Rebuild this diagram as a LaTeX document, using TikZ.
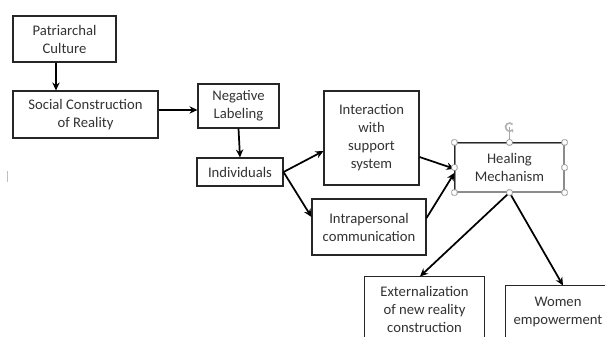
\documentclass[tikz,border=0pt]{standalone}
\usepackage{fontspec}
\setmainfont{Carlito}
\usetikzlibrary{arrows.meta,calc}
\tikzset{
  box/.style={draw=black!85, line width=0.8pt, fill=white, inner sep=0pt, align=center,
    font=\fontsize{11}{13.5}\selectfont, text=black!80},
  edge/.style={draw=black!85, line width=0.8pt},
  arr/.style={draw=black, line width=1.3pt, -{Stealth[length=6pt,width=5.5pt]}},
  handle/.style={draw=black!40, fill=white, line width=0.6pt, rounded corners=0.9pt,
    minimum size=4pt, inner sep=0pt, rectangle},
}
\begin{document}
\begin{tikzpicture}[x=0.75pt,y=-0.75pt]
\clip (0,0) rectangle (605,336);
\fill[white] (0,0) rectangle (605,336);

\node[box, minimum width=77.25pt, minimum height=34.5pt] (P) at (64.5,39) {Patriarchal\\Culture};
\node[box, minimum width=108.75pt, minimum height=35.25pt] (S) at (85.5,114.5) {Social Construction\\of Reality};
\node[box, minimum width=60.75pt, minimum height=33pt] (N) at (238.5,106) {Negative\\Labeling};
\node[box, minimum width=64.5pt, minimum height=21pt] (I) at (240,172) {Individuals};
\node[box, minimum width=71.25pt, minimum height=70.5pt] (Int) at (371.5,138) {Interaction\\with\\support\\system};
\node[box, minimum width=85.5pt, minimum height=42pt] (Intra) at (369,227) {Intrapersonal\\communication};
\node[box, minimum width=81.75pt, minimum height=36.75pt, draw=black!45] (H) at (509.5,167.5) {Healing\\Mechanism};
\node[box, draw=none, minimum width=89.25pt, minimum height=48pt] (E) at (424.5,309) {Externalization\\of new reality\\construction};
\node[box, draw=none, minimum width=78pt, minimum height=39pt] (W) at (558,312) {Women\\empowerment};

% boxes running off the lower and right edges
\draw[edge] ([yshift=-20pt]E.south west) -- (E.north west) -- (E.north east) -- ([yshift=-20pt]E.south east);
\draw[edge] ([yshift=-20pt]W.south west) -- (W.north west) -- (W.north east) -- ([yshift=-20pt]W.south east);

% darker top/left edges of the selected box
\draw[edge] (H.south west) -- (H.north west) -- (H.north east);

% connectors
\draw[arr] ([xshift=-6.4pt]P.south) -- ([xshift=-6.4pt]P.south |- S.north);
\draw[arr] ([yshift=3.4pt]S.east) -- ([yshift=3.4pt]S.east -| N.west);
\draw[arr] (N.south) -- (I.north);
\draw[arr] (I.east) -- ([yshift=-9.75pt]Int.west);
\draw[arr] (I.east) -- ([yshift=7.5pt]Intra.west);
\draw[arr] ([yshift=-14.25pt]Int.east) -- ([yshift=-1pt]H.west);
\draw[arr] ([yshift=6.75pt]Intra.east) -- ([yshift=-4pt]H.west);
\draw[arr] (H.south) -- ([xshift=-3.4pt]E.north);
\draw[arr] (H.south) -- ([xshift=3.75pt]W.north);

% selection handles
\coordinate (rot) at (509.5,127);
\draw[black!35, line width=0.6pt] (rot) -- (H.north);
\foreach \a in {north west,north,north east,west,east,south west,south,south east}
  \node[handle] at (H.\a) {};
\draw[black!30, line width=1.2pt, -{Stealth[length=2.5pt,width=3pt]}] ([shift={(40:3pt)}]rot) arc[start angle=40, end angle=330, radius=3pt];

% faint mark at left edge
\coordinate (m1) at (7,171);
\coordinate (m2) at (7,182);
\draw[black!25, line width=0.6pt] (m1) -- (m2);
\end{tikzpicture}
\end{document}
